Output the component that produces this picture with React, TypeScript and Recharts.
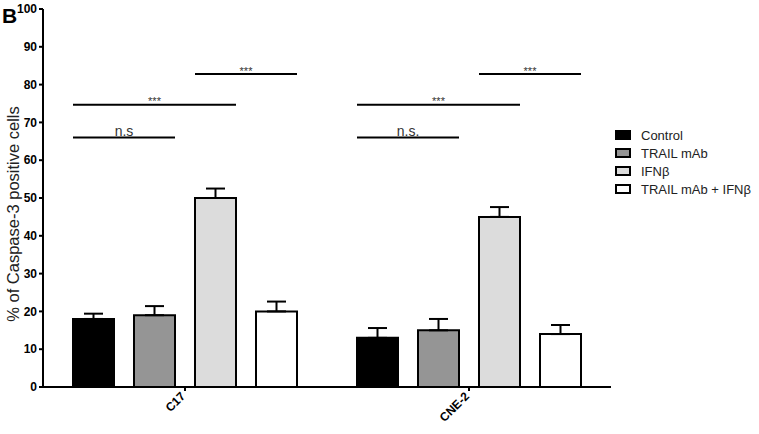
import React from 'react'
import {
  BarChart,
  Bar,
  XAxis,
  YAxis,
  ErrorBar,
  ReferenceLine,
  Label,
} from 'recharts'

// cell lines on the x axis
const categories = ['C17', 'CNE-2']

// % caspase-3 positive cells, mean and upper error (SEM)
const control = [18, 13]
const controlErr = [1.4, 2.6]
const trailMab = [19, 15]
const trailMabErr = [2.4, 3.0]
const ifnb = [50, 45]
const ifnbErr = [2.5, 2.6]
const combo = [20, 14]
const comboErr = [2.6, 2.4]

const yTicks = [0, 10, 20, 30, 40, 50, 60, 70, 80, 90, 100]

// significance brackets: group, first bar, last bar, height, text
const sigGroups = [0, 0, 0, 1, 1, 1]
const sigFromBar = [0, 0, 2, 0, 0, 2]
const sigToBar = [1, 2, 3, 1, 2, 3]
const sigLevels = [66, 74.7, 82.8, 66, 74.7, 82.8]
const sigLabels = ['n.s', '***', '***', 'n.s.', '***', '***']

const series = [
  { key: 'control', name: 'Control', fill: '#000000' },
  { key: 'trail', name: 'TRAIL mAb', fill: '#959595' },
  { key: 'ifnb', name: 'IFN\u03b2', fill: '#dcdcdc' },
  { key: 'combo', name: 'TRAIL mAb + IFN\u03b2', fill: '#ffffff' },
]

const data = categories.map((name, i) => ({
  name,
  control: control[i],
  controlErr: [0, controlErr[i]],
  trail: trailMab[i],
  trailErr: [0, trailMabErr[i]],
  ifnb: ifnb[i],
  ifnbErr: [0, ifnbErr[i]],
  combo: combo[i],
  comboErr: [0, comboErr[i]],
}))

const W = 759
const H = 434
const MARGIN = { top: 9, right: 148, left: 0, bottom: 7 }
const Y_W = 43
const CAT_GAP = 30
const BAR_GAP = 20
const FONT = '"Liberation Sans", Arial, Helvetica, sans-serif'

// bar edges as a fraction of the x range, so the bracket lines sit over the bars
const nCat = categories.length
const bandPx = (W - MARGIN.left - MARGIN.right - Y_W) / nCat
const barPx = (bandPx - 2 * CAT_GAP - (series.length - 1) * BAR_GAP) / series.length
const barLeft = (g: number, i: number) => (g + (CAT_GAP + i * (barPx + BAR_GAP)) / bandPx) / nCat
const barRight = (g: number, i: number) => barLeft(g, i) + barPx / bandPx / nCat

function SigLabel(props: any) {
  const { viewBox, text } = props
  if (!viewBox) return null
  const cx = viewBox.x + viewBox.width / 2
  const stars = text === '***'
  return (
    <text
      x={cx}
      y={stars ? viewBox.y + 0.5 : viewBox.y - 2}
      textAnchor="middle"
      fontSize={stars ? 11 : 14}
      fill={stars ? '#333' : '#333'}
      fontFamily={FONT}
    >
      {text}
    </text>
  )
}

function XTick(props: any) {
  const { x, y, payload } = props
  return (
    <g transform={`translate(${x + 1},${y + 4})`}>
      <text textAnchor="end" transform="rotate(-45)" fontSize={12} fontWeight="bold" fill="#000" fontFamily={FONT}>
        {payload.value}
      </text>
    </g>
  )
}

function LegendBox() {
  return (
    <div style={{ position: 'absolute', left: 615, top: 126, fontFamily: FONT, fontSize: 13, color: '#222' }}>
      {series.map(s => (
        <div key={s.key} style={{ display: 'flex', alignItems: 'center', height: 18 }}>
          <span
            style={{
              display: 'inline-block',
              width: 16,
              height: 10,
              boxSizing: 'border-box',
              border: '2px solid #000',
              background: s.fill,
              marginRight: 10,
            }}
          />
          <span>{s.name}</span>
        </div>
      ))}
    </div>
  )
}

export default function App() {
  return (
    <div style={{ position: 'absolute', left: 0, top: 0, width: W, height: H, background: '#fff' }}>
      <div
        style={{
          position: 'absolute',
          left: 2,
          top: 4,
          fontFamily: FONT,
          fontWeight: 'bold',
          fontSize: 21,
          lineHeight: '24px',
          color: '#000',
        }}
      >
        B
      </div>
      <BarChart
        width={W}
        height={H}
        data={data}
        margin={MARGIN}
        barCategoryGap={CAT_GAP}
        barGap={BAR_GAP}
        style={{ fontFamily: FONT }}
      >
        <XAxis
          dataKey="name"
          height={40}
          tickSize={4}
          tick={<XTick />}
          axisLine={{ stroke: '#000', strokeWidth: 2 }}
          tickLine={{ stroke: '#000', strokeWidth: 2 }}
        />
        <XAxis xAxisId="ann" type="number" domain={[0, 1]} hide allowDataOverflow />
        <YAxis
          width={Y_W}
          domain={[0, 100]}
          ticks={yTicks}
          interval={0}
          tickSize={4}
          tickMargin={2}
          axisLine={{ stroke: '#000', strokeWidth: 2 }}
          tickLine={{ stroke: '#000', strokeWidth: 2 }}
          tick={{ fontSize: 12, fontWeight: 'bold', fill: '#000' }}
        >
          <Label
            content={() => (
              <text
                transform="translate(19,214) rotate(-90)"
                textAnchor="middle"
                fontSize={16.5}
                fill="#222"
                fontFamily={FONT}
              >
                % of Caspase-3 positive cells
              </text>
            )}
          />
        </YAxis>
        {series.map(s => (
          <Bar
            key={s.key}
            dataKey={s.key}
            name={s.name}
            fill={s.fill}
            stroke="#000"
            strokeWidth={2}
            isAnimationActive={false}
          >
            <ErrorBar dataKey={`${s.key}Err`} direction="y" width={9.5} stroke="#000" strokeWidth={2} />
          </Bar>
        ))}
        {sigLabels.map((text, k) => (
          <ReferenceLine
            key={k}
            xAxisId="ann"
            segment={[
              { x: barLeft(sigGroups[k], sigFromBar[k]), y: sigLevels[k] },
              { x: barRight(sigGroups[k], sigToBar[k]), y: sigLevels[k] },
            ]}
            stroke="#000"
            strokeWidth={2}
            ifOverflow="visible"
            label={<SigLabel text={text} />}
          />
        ))}
      </BarChart>
      <LegendBox />
    </div>
  )
}
